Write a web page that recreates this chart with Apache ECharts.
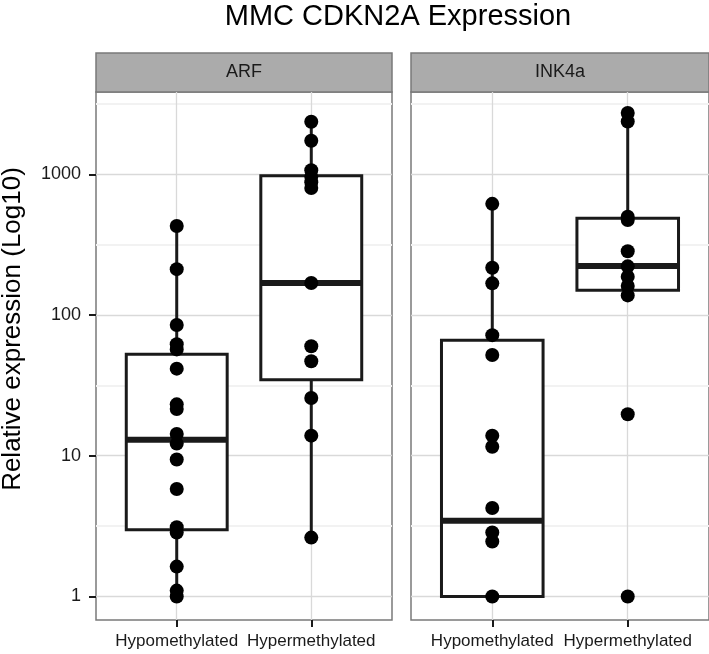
<!DOCTYPE html>
<html><head><meta charset="utf-8">
<script src="https://cdn.jsdelivr.net/npm/echarts@6/dist/echarts.min.js"></script>
<style>html,body{margin:0;padding:0;background:#fff}#c{width:709px;height:654px}</style>
</head><body><div id="c"></div>
<script>
const chartTitle = 'MMC CDKN2A Expression';
const yTitle = 'Relative expression (Log10)';
const panels = ['ARF', 'INK4a'];
const categories = ['Hypomethylated', 'Hypermethylated'];
const yTicks = [1, 10, 100, 1000];
const yMinor = [3.162, 31.62, 316.2, 3162];
const yMin = 0.68, yMax = 3850;
// box stats: [lower whisker, Q1, median, Q3, upper whisker]
const arfHypoBox = [1.0, 2.98, 13.0, 52.6, 430];
const arfHyperBox = [2.62, 34.7, 169, 976, 2367];
const ink4aHypoBox = [1.0, 1.0, 3.45, 66.2, 617];
const ink4aHyperBox = [138, 150, 223, 488, 2731];
// individual samples
const arfHypoPts = [430, 212, 85, 62, 57, 41.6, 23.2, 21.5, 14.3, 12.2, 9.4, 5.8, 3.1, 2.85, 1.63, 1.1, 1.0];
const arfHyperPts = [2367, 1733, 1070, 960, 880, 800, 169, 60, 47, 25.7, 13.9, 2.62];
const ink4aHypoPts = [617, 217, 168, 72, 52, 13.9, 11.6, 4.25, 2.85, 2.46, 1.0];
const ink4aHyperPts = [2731, 2378, 500, 474, 284, 222, 187, 161, 138, 19.7, 1.0];

const FONT = "'Liberation Sans', Arial, Helvetica, sans-serif";
const INK = '#1a1a1a';
const gridsPx = [{left: 96, top: 92, width: 296, height: 528}, {left: 411, top: 92, width: 298, height: 528}];
const boxes = [[arfHypoBox, arfHyperBox], [ink4aHypoBox, ink4aHyperBox]];
const pts = [[arfHypoPts, arfHyperPts], [ink4aHypoPts, ink4aHyperPts]];

function renderBox(params, api) {
  const x = api.value(0);
  const hw = 0.375;
  const q1L = api.coord([x - hw, api.value(2)]);
  const q3R = api.coord([x + hw, api.value(4)]);
  const wLo = api.coord([x, api.value(1)]);
  const wHi = api.coord([x, api.value(5)]);
  const mL = api.coord([x - hw, api.value(3)]);
  const mR = api.coord([x + hw, api.value(3)]);
  const ls = {stroke: INK, lineWidth: 3, fill: null};
  return {type: 'group', children: [
    {type: 'line', shape: {x1: wLo[0], y1: wLo[1], x2: wLo[0], y2: q1L[1]}, style: ls},
    {type: 'line', shape: {x1: wHi[0], y1: q3R[1], x2: wHi[0], y2: wHi[1]}, style: ls},
    {type: 'rect', shape: {x: q1L[0], y: q3R[1], width: q3R[0] - q1L[0], height: q1L[1] - q3R[1]}, style: {stroke: INK, lineWidth: 3, fill: '#fff'}},
    {type: 'line', shape: {x1: mL[0], y1: mL[1], x2: mR[0], y2: mR[1]}, style: {stroke: INK, lineWidth: 6}}
  ]};
}

const grid = gridsPx.map(g => Object.assign({show: true, borderColor: '#7a7a7a', borderWidth: 1.5, backgroundColor: '#fff', containLabel: false}, g));
const xAxis = gridsPx.map((g, i) => ({
  type: 'value', gridIndex: i, min: 0.4, max: 2.6,
  axisLine: {show: false},
  axisTick: {show: true, customValues: [1, 2], length: 7, lineStyle: {color: INK, width: 2}},
  axisLabel: {customValues: [1, 2], formatter: v => categories[Math.round(v) - 1] || '', fontSize: 17, color: INK, margin: 13, fontFamily: FONT},
  splitLine: {show: false}
}));
const yAxis = gridsPx.map((g, i) => ({
  type: 'log', logBase: 10, gridIndex: i, min: yMin, max: yMax,
  axisLine: {show: false},
  axisTick: {show: i === 0, customValues: yTicks, length: 7, lineStyle: {color: INK, width: 2}},
  axisLabel: {show: i === 0, customValues: yTicks, formatter: v => String(Math.round(v)), fontSize: 18, color: INK, margin: 15, fontFamily: FONT},
  splitLine: {show: false}
}));

const series = [];
gridsPx.forEach((g, i) => {
  series.push({
    type: 'scatter', xAxisIndex: i, yAxisIndex: i, data: [], silent: true, z: 1,
    markLine: {
      silent: true, z: 1, symbol: ['none', 'none'], label: {show: false}, animation: false,
      data: [
        ...yMinor.map(v => ({yAxis: v, lineStyle: {color: '#f2f2f2', width: 2, type: 'solid'}})),
        ...yTicks.map(v => ({yAxis: v, lineStyle: {color: '#d9d9d9', width: 1.3, type: 'solid'}})),
        ...[1, 2].map(v => ({xAxis: v, lineStyle: {color: '#d9d9d9', width: 1.3, type: 'solid'}}))
      ]
    }
  });
  series.push({
    type: 'custom', xAxisIndex: i, yAxisIndex: i, z: 4, silent: true,
    renderItem: renderBox,
    encode: {x: 0, y: [1, 2, 3, 4, 5]},
    data: boxes[i].map((b, k) => [k + 1, ...b])
  });
  series.push({
    type: 'scatter', xAxisIndex: i, yAxisIndex: i, z: 6, silent: true,
    symbolSize: 14, itemStyle: {color: '#000', opacity: 1},
    data: [].concat(...pts[i].map((arr, k) => arr.map(v => [k + 1, v])))
  });
});

const graphic = [
  {type: 'text', x: 398, y: 17, style: {text: chartTitle, font: "29px " + FONT, fill: '#000', align: 'center', verticalAlign: 'middle'}},
  {type: 'text', x: 13, y: 329, rotation: Math.PI / 2, style: {text: yTitle, font: "26px " + FONT, fill: '#000', align: 'center', verticalAlign: 'middle'}}
];
panels.forEach((p, i) => {
  const g = gridsPx[i];
  graphic.push({type: 'rect', shape: {x: g.left, y: 53, width: g.width, height: 39}, style: {fill: '#ababab', stroke: '#7a7a7a', lineWidth: 1.5}});
  graphic.push({type: 'text', x: g.left + g.width / 2, y: 72.5, style: {text: p, font: "18px " + FONT, fill: INK, align: 'center', verticalAlign: 'middle'}});
});

const chart = echarts.init(document.getElementById('c'), null, {renderer: 'canvas'});
chart.setOption({animation: false, grid, xAxis, yAxis, series, graphic});
</script></body></html>
